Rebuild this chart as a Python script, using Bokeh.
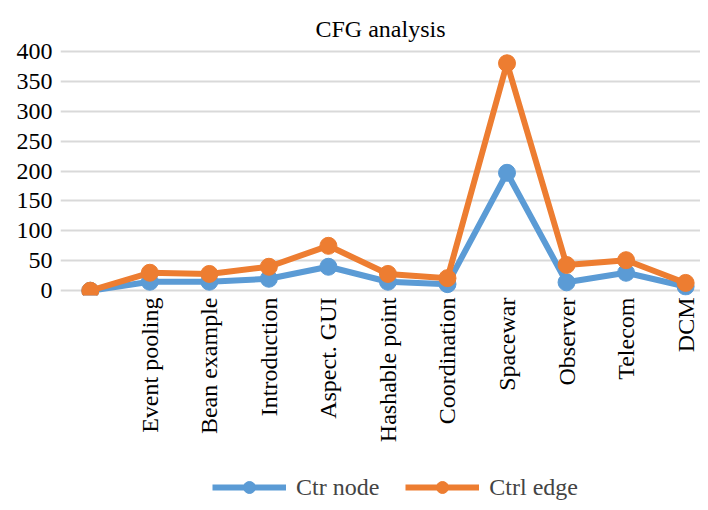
import math
from bokeh.plotting import figure
from bokeh.layouts import column
from bokeh.embed import file_html
from bokeh.resources import INLINE
from bokeh.models import Legend, LegendItem, FixedTicker, ColumnDataSource

categories = ["", "Event pooling", "Bean example", "Introduction", "Aspect. GUI",
              "Hashable point", "Coordination", "Spacewar", "Observer", "Telecom", "DCM"]
ctr_node = [0, 15, 15, 20, 40, 15, 11, 197, 14, 30, 7]
ctrl_edge = [0, 30, 28, 40, 75, 28, 21, 380, 43, 51, 13]
y_ticks = [0, 50, 100, 150, 200, 250, 300, 350, 400]
series_names = ["Ctr node", "Ctrl edge"]

BLUE = "#5B9BD5"
ORANGE = "#ED7D31"
FONT = "Liberation Serif"

xs = list(range(len(categories)))
src = ColumnDataSource(dict(x=xs, a=ctr_node, b=ctrl_edge))

p = figure(width=700, height=468, output_backend="svg", toolbar_location=None,
           x_range=(-0.5, 10.25), y_range=(-8, 408),
           min_border_left=60, min_border_right=0, min_border_top=46,
           min_border_bottom=173)
p.outline_line_color = None
p.background_fill_color = "white"
p.border_fill_color = "white"

p.title.text = "CFG analysis"
p.title.align = "center"
p.title.text_font = FONT
p.title.text_font_size = "24px"
p.title.text_font_style = "normal"
p.title.text_color = "black"

p.line("x", "a", source=src, line_color=BLUE, line_width=6)
p.scatter("x", "a", source=src, size=17, fill_color=BLUE, line_color=BLUE)
p.line("x", "b", source=src, line_color=ORANGE, line_width=6)
p.scatter("x", "b", source=src, size=17, fill_color=ORANGE, line_color=ORANGE)

p.xaxis.ticker = FixedTicker(ticks=xs)
p.xaxis.major_label_overrides = {i: c for i, c in enumerate(categories)}
p.xaxis.major_label_orientation = math.pi / 2
p.yaxis.ticker = FixedTicker(ticks=y_ticks)
for ax in (p.xaxis, p.yaxis):
    ax.axis_line_color = None
    ax.major_tick_line_color = None
    ax.minor_tick_line_color = None
    ax.major_tick_out = 0
    ax.major_label_text_font = FONT
    ax.major_label_text_font_size = "24px"
    ax.major_label_text_color = "black"
p.xaxis.major_label_standoff = 2
p.yaxis.major_label_standoff = 8

p.xgrid.grid_line_color = None
p.ygrid.ticker = FixedTicker(ticks=y_ticks)
p.ygrid.grid_line_color = "#D9D9D9"
p.ygrid.grid_line_width = 2

# legend strip
lf = figure(width=700, height=34, output_backend="svg", toolbar_location=None,
            x_range=(0, 1), y_range=(0, 1), min_border=0,
            x_axis_location=None, y_axis_location=None)
lf.outline_line_color = None
lf.grid.visible = False
off = ColumnDataSource(dict(x=[-5, -4], y=[-5, -5]))
b1 = lf.line("x", "y", source=off, line_color=BLUE, line_width=6)
b2 = lf.scatter("x", "y", source=off, size=17, fill_color=BLUE, line_color=BLUE)
o1 = lf.line("x", "y", source=off, line_color=ORANGE, line_width=6)
o2 = lf.scatter("x", "y", source=off, size=17, fill_color=ORANGE, line_color=ORANGE)
legend = Legend(items=[LegendItem(label=series_names[0], renderers=[b1, b2], index=0),
                       LegendItem(label=series_names[1], renderers=[o1, o2], index=0)],
                orientation="horizontal", location=(152, 0),
                label_text_font=FONT, label_text_font_size="24px",
                glyph_width=74, glyph_height=30, spacing=26, label_standoff=10,
                border_line_color=None, background_fill_alpha=0,
                margin=0, padding=2)
lf.add_layout(legend, "center")

open("out.html", "w").write(file_html(column(p, lf, spacing=0), INLINE))
